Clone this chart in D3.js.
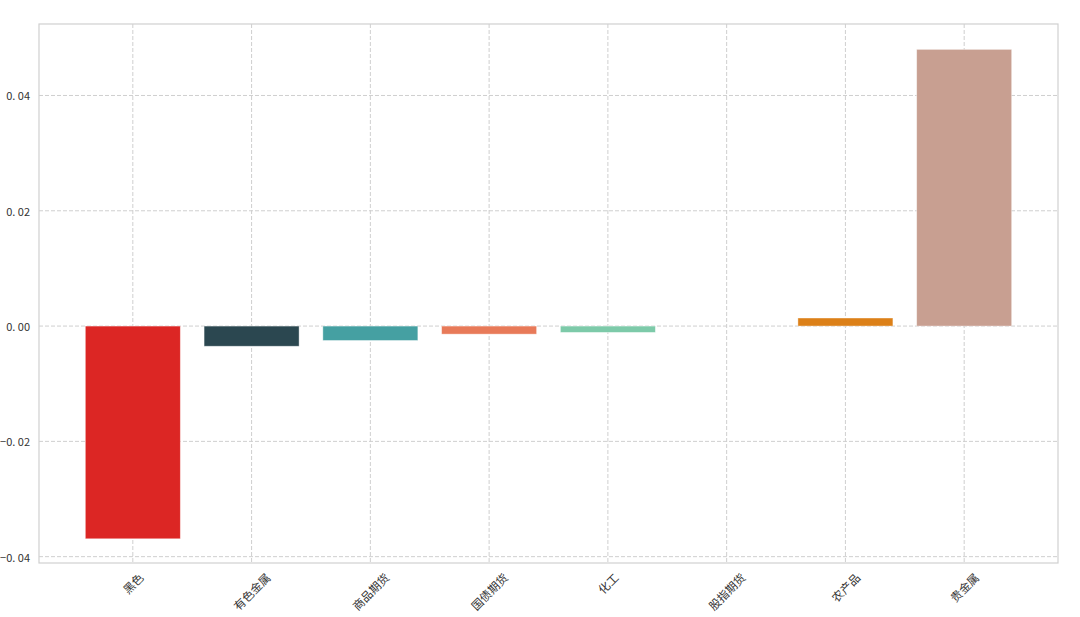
<!DOCTYPE html>
<html>
<head>
<meta charset="utf-8">
<script src="https://cdn.jsdelivr.net/npm/d3@7"></script>
<style>
  body { margin: 0; background: #fff; }
  text { font-family: "Noto Sans CJK SC", "DejaVu Sans", sans-serif; }
</style>
</head>
<body>
<svg class="canva" width="1080" height="617"></svg>
<script>
// sector returns
const categories = ["黑色", "有色金属", "商品期货", "国债期货", "化工", "股指期货", "农产品", "贵金属"];
const values = [-0.0369, -0.0035, -0.0025, -0.0014, -0.0011, 0.0000, 0.0014, 0.0480];
const colors = ["#dc2624", "#2b4750", "#45a0a2", "#e87a59", "#7dcaa9", "#649e7d", "#dc8018", "#c89f91"];
const yTicks = [-0.04, -0.02, 0.00, 0.02, 0.04];

const svg = d3.select(".canva");
const plotL = 39, plotR = 1058, plotT = 24, plotB = 563;

// matplotlib style x limits: bars at integer positions, width 0.8, 5% margin
const x = d3.scaleLinear().domain([-0.79, categories.length - 1 + 0.79]).range([plotL, plotR]);
const y = d3.scaleLinear().domain([-0.0411, 0.0524]).range([plotB, plotT]);
const barW = x(0.8) - x(0);

// grid
svg.append("g").selectAll("line")
  .data(yTicks).enter().append("line")
  .attr("x1", plotL).attr("x2", plotR)
  .attr("y1", d => y(d)).attr("y2", d => y(d))
  .attr("stroke", "#cfcfcf").attr("stroke-dasharray", "4,2");

svg.append("g").selectAll("line")
  .data(categories).enter().append("line")
  .attr("x1", (d, i) => x(i)).attr("x2", (d, i) => x(i))
  .attr("y1", plotT).attr("y2", plotB)
  .attr("stroke", "#cfcfcf").attr("stroke-dasharray", "4,2");

// bars
svg.append("g").selectAll("rect")
  .data(values).enter().append("rect")
  .attr("x", (d, i) => x(i) - barW / 2)
  .attr("width", barW)
  .attr("y", d => y(Math.max(0, d)))
  .attr("height", d => Math.abs(y(d) - y(0)))
  .attr("fill", (d, i) => colors[i])
  .attr("stroke", "#ffffff")
  .attr("stroke-opacity", 0.5)
  .attr("stroke-width", 0.8);

// frame
svg.append("rect")
  .attr("x", plotL).attr("y", plotT)
  .attr("width", plotR - plotL).attr("height", plotB - plotT)
  .attr("fill", "none").attr("stroke", "#d0d0d0").attr("stroke-width", 1.2);

// y tick labels (CJK font gives the wide "0. 04" look)
svg.append("g").selectAll("text")
  .data(yTicks).enter().append("text")
  .text(d => d3.format(".2f")(d).replace(".", ". ").replace("-", "−"))
  .attr("x", plotL - 9)
  .attr("y", d => y(d))
  .attr("text-anchor", "end")
  .attr("dominant-baseline", "central")
  .attr("fill", "#333")
  .attr("font-size", 11);

// x tick labels, rotated 45 degrees, centred under each bar
const xl = svg.append("g").selectAll("text")
  .data(categories).enter().append("text")
  .text(d => d)
  .attr("text-anchor", "middle")
  .attr("dominant-baseline", "central")
  .attr("fill", "#333")
  .attr("font-size", 11.5);

xl.attr("transform", function (d, i) {
  const w = this.getComputedTextLength();
  const h = 11.5;
  const half = (w + h) * Math.SQRT1_2 / 2;
  return "translate(" + x(i) + "," + (plotB + 8 + half) + ") rotate(-45)";
});
</script>
</body>
</html>
